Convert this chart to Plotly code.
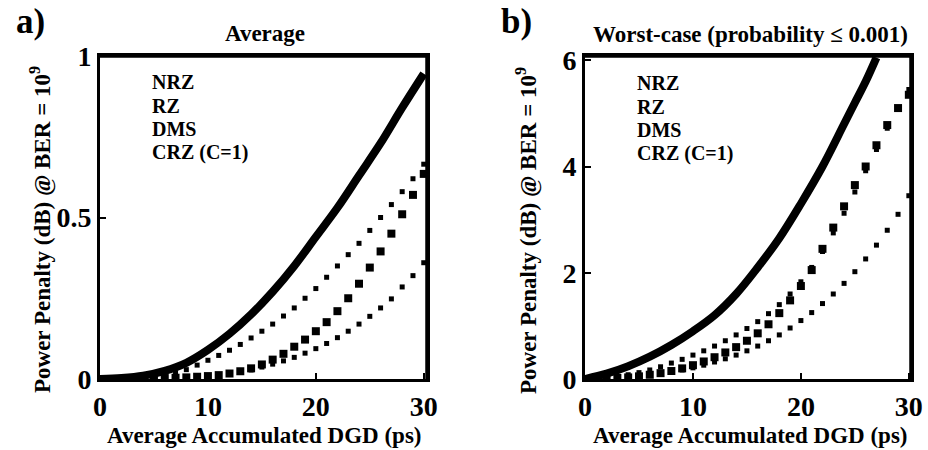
import plotly.graph_objects as go

# ---------------- data ----------------
X_NRZ_A = [0, 2, 4, 6, 8, 10, 12, 14, 16, 18, 20, 22, 24, 26, 28, 30]
NRZ_A = [0, 0.003, 0.01, 0.025, 0.05, 0.09, 0.14, 0.2, 0.27, 0.35, 0.44, 0.53, 0.63, 0.73, 0.84, 0.945]

X_DOTS = [1, 2, 3, 4, 5, 6, 7, 8, 9, 10, 11, 12, 13, 14, 15,
          16, 17, 18, 19, 20, 21, 22, 23, 24, 25, 26, 27, 28, 29, 30]

RZ_A = [0.0, 0.001, 0.002, 0.004, 0.007, 0.012, 0.019, 0.029, 0.043, 0.058,
        0.073, 0.089, 0.107, 0.127, 0.148, 0.17, 0.195, 0.22, 0.25, 0.28,
        0.315, 0.35, 0.385, 0.42, 0.46, 0.5, 0.54, 0.58, 0.62, 0.665]
DMS_A = [0.0, 0.0, 0.001, 0.001, 0.002, 0.003, 0.004, 0.005, 0.007, 0.009,
         0.012, 0.017, 0.024, 0.033, 0.045, 0.06, 0.078, 0.1, 0.122, 0.148,
         0.176, 0.21, 0.25, 0.295, 0.345, 0.395, 0.45, 0.51, 0.57, 0.635]
CRZ_A = [0.0, 0.0, 0.0, 0.001, 0.001, 0.002, 0.003, 0.004, 0.006, 0.008,
         0.011, 0.015, 0.021, 0.028, 0.037, 0.046, 0.056, 0.067, 0.08, 0.094,
         0.11, 0.128, 0.148, 0.17, 0.194, 0.22, 0.248, 0.285, 0.32, 0.36]

X_NRZ_B = [0, 2, 4, 6, 8, 10, 12, 14, 16, 18, 20, 22, 24, 25, 26, 27]
NRZ_B = [0, 0.1, 0.24, 0.42, 0.64, 0.9, 1.2, 1.6, 2.1, 2.65, 3.3, 4.0, 4.8, 5.2, 5.6, 6.05]

RZ_B = [0.01, 0.03, 0.05, 0.08, 0.12, 0.17, 0.23, 0.3, 0.37, 0.45,
        0.53, 0.62, 0.72, 0.83, 0.95, 1.08, 1.23, 1.4, 1.6, 1.83,
        2.1, 2.4, 2.75, 3.12, 3.52, 3.92, 4.32, 4.72, 5.1, 5.45]
DMS_B = [0.0, 0.01, 0.02, 0.03, 0.05, 0.08, 0.11, 0.15, 0.2, 0.26,
         0.33, 0.41, 0.5, 0.6, 0.72, 0.86, 1.03, 1.24, 1.48, 1.75,
         2.05, 2.45, 2.85, 3.25, 3.65, 4.0, 4.4, 4.78, 5.1, 5.35]
CRZ_B = [0.0, 0.01, 0.02, 0.03, 0.05, 0.07, 0.1, 0.13, 0.17, 0.21,
         0.26, 0.32, 0.38, 0.45, 0.53, 0.62, 0.72, 0.83, 0.96, 1.1,
         1.25, 1.42, 1.6, 1.8, 2.02, 2.26, 2.52, 2.8, 3.1, 3.45]

LEGEND_LABELS = ["NRZ", "RZ", "DMS", "CRZ (C=1)"]
X_TICKS = [0, 10, 20, 30]
Y_TICKS_A = [0, 0.5, 1]
Y_TICKTEXT_A = ["0", "0.5", "1"]
Y_TICKS_B = [0, 2, 4, 6]

TITLE_A = "Average"
TITLE_B = "Worst-case (probability ≤ 0.001)"
X_TITLE = "Average Accumulated DGD (ps)"
Y_TITLE = "Power Penalty (dB) @ BER = 10<sup>9</sup>"

# axis ranges
XR_A = [0, 30.3]
YR_A = [0, 1.0]
XR_B = [0, 30.2]
YR_B = [0, 6.08]

# ---------------- figure ----------------
W, H = 928, 450
FONT = "Liberation Serif"
BLACK = "#000000"

XDOM_A = [100 / W, 427 / W]
XDOM_B = [585 / W, 911 / W]
YDOM = [1 - 379 / H, 1 - 56 / H]

fig = go.Figure()


def add_panel(xa, ya, x_nrz, nrz, rz, dms, crz, xr, yr):
    fig.add_trace(go.Scatter(x=x_nrz, y=nrz, mode="lines", line=dict(color=BLACK, width=8, shape="spline"),
                             xaxis=xa, yaxis=ya, showlegend=False))
    fig.add_trace(go.Scatter(x=X_DOTS, y=rz, mode="markers",
                             marker=dict(symbol="square", size=5, color=BLACK),
                             xaxis=xa, yaxis=ya, showlegend=False))
    fig.add_trace(go.Scatter(x=X_DOTS, y=dms, mode="markers",
                             marker=dict(symbol="square", size=8, color=BLACK),
                             xaxis=xa, yaxis=ya, showlegend=False))
    fig.add_trace(go.Scatter(x=X_DOTS, y=crz, mode="markers",
                             marker=dict(symbol="square", size=5, color=BLACK),
                             xaxis=xa, yaxis=ya, showlegend=False))
    # top and right sides of the plot frame, taken from the axis ranges
    fig.add_trace(go.Scatter(x=[xr[0], xr[1], xr[1]], y=[yr[1], yr[1], yr[0]], mode="lines",
                             line=dict(color=BLACK, width=3.5), hoverinfo="skip",
                             xaxis=xa, yaxis=ya, showlegend=False))


add_panel("x", "y", X_NRZ_A, NRZ_A, RZ_A, DMS_A, CRZ_A, XR_A, YR_A)
add_panel("x2", "y2", X_NRZ_B, NRZ_B, RZ_B, DMS_B, CRZ_B, XR_B, YR_B)

axis_common = dict(showline=True, mirror=True, linewidth=3, linecolor=BLACK,
                   ticks="inside", ticklen=6, tickwidth=1.5, tickcolor=BLACK,
                   showgrid=False, zeroline=False,
                   tickfont=dict(family=FONT, size=28, color=BLACK, weight="bold"))

fig.update_layout(
    width=W, height=H, autosize=False,
    margin=dict(l=0, r=0, t=0, b=0, pad=0, autoexpand=False),
    paper_bgcolor="white", plot_bgcolor="white",
    font=dict(family=FONT, color=BLACK, weight="bold"),
    xaxis=dict(domain=XDOM_A, range=XR_A, tickvals=X_TICKS, anchor="y", **axis_common),
    yaxis=dict(domain=YDOM, range=YR_A, tickvals=Y_TICKS_A, ticktext=Y_TICKTEXT_A, anchor="x", **axis_common),
    xaxis2=dict(domain=XDOM_B, range=XR_B, tickvals=X_TICKS, anchor="y2", **axis_common),
    yaxis2=dict(domain=YDOM, range=YR_B, tickvals=Y_TICKS_B, anchor="x2", **axis_common),
)


def ann(text, px, py, size, xanchor="center", angle=0):
    fig.add_annotation(text=text, x=px / W, y=1 - py / H, xref="paper", yref="paper",
                       xanchor=xanchor, yanchor="middle", showarrow=False, textangle=angle,
                       font=dict(family=FONT, size=size, color=BLACK, weight="bold"))


ann("a)", 30, 22, 35)
ann("b)", 516, 22, 35)
ann(TITLE_A, 265, 33, 23)
ann(TITLE_B, 750, 35, 23)
ann(X_TITLE, 264, 435, 23)
ann(X_TITLE, 750, 435, 23)
ann(Y_TITLE, 41, 230, 23, angle=-90)
ann(Y_TITLE, 527, 231, 23, angle=-90)
for i, lab in enumerate(LEGEND_LABELS):
    ann(lab, 150, 82 + 23.5 * i, 20, xanchor="left")
    ann(lab, 635, 83 + 23.5 * i, 20, xanchor="left")

fig.write_html("out.html", config={"responsive": False})
